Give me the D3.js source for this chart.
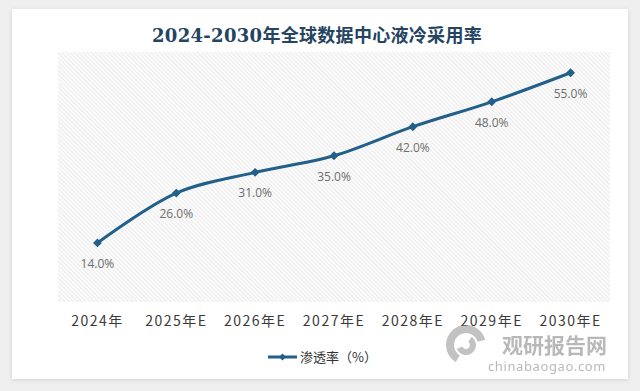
<!DOCTYPE html>
<html lang="zh">
<head>
<meta charset="UTF-8">
<title>全球数据中心液冷采用率</title>
<script src="https://d3js.org/d3.v7.min.js"></script>
<style>
  html, body { margin: 0; padding: 0; background: #efefef; }
  svg { display: block; }
</style>
</head>
<body>
<div id="chart"></div>
<script>
    var width = 640, height = 391;

    // data
    var years = ['2024年', '2025年E', '2026年E', '2027年E', '2028年E', '2029年E', '2030年E'];
    var rates = [14.0, 26.0, 31.0, 35.0, 42.0, 48.0, 55.0];
    var seriesName = '渗透率（%）';
    var title = '2024-2030年全球数据中心液冷采用率';

    var plot = {left: 58, right: 610, top: 52, bottom: 302};
    var lineColor = '#22608a';

    var svg = d3.select('#chart').append('svg')
        .attr('width', width)
        .attr('height', height);

    var defs = svg.append('defs');
    var shadow = defs.append('filter').attr('id', 'shadow')
        .attr('x', '-5%').attr('y', '-5%').attr('width', '110%').attr('height', '110%');
    shadow.append('feDropShadow').attr('dx', 0).attr('dy', 1).attr('stdDeviation', 2)
        .attr('flood-color', '#000').attr('flood-opacity', 0.12);

    // diagonal hatch for the plot area
    var hatch = defs.append('pattern').attr('id', 'hatch')
        .attr('patternUnits', 'userSpaceOnUse')
        .attr('width', 3).attr('height', 3)
        .attr('patternTransform', 'rotate(-45)');
    hatch.append('rect').attr('width', 3).attr('height', 3).attr('fill', '#fbfbfb');
    hatch.append('line').attr('x1', 0).attr('y1', 0).attr('x2', 0).attr('y2', 3)
        .attr('stroke', '#e3e3e3').attr('stroke-width', 1.2);

    // card
    svg.append('rect')
        .attr('x', 12).attr('y', 9).attr('width', 616).attr('height', 370)
        .attr('fill', '#ffffff')
        .attr('filter', 'url(#shadow)');

    svg.append('text')
        .attr('x', 317).attr('y', 42)
        .attr('text-anchor', 'middle')
        .attr('font-family', '"DejaVu Serif", "Noto Sans CJK SC", serif')
        .attr('font-weight', 'bold')
        .attr('font-size', 18)
        .attr('letter-spacing', 0.3)
        .attr('fill', '#244462')
        .text(title);

    svg.append('rect')
        .attr('x', plot.left).attr('y', plot.top)
        .attr('width', plot.right - plot.left).attr('height', plot.bottom - plot.top)
        .attr('fill', 'url(#hatch)');

    var x = d3.scaleBand()
        .domain(years)
        .range([plot.left, plot.right]);

    var y = d3.scaleLinear()
        .domain([0, 60])
        .range([301, plot.top]);

    var xAxis = svg.append('g')
        .attr('transform', 'translate(0,' + plot.bottom + ')')
        .call(d3.axisBottom(x).tickSize(0).tickPadding(14));
    xAxis.select('.domain').remove();
    xAxis.selectAll('text')
        .attr('font-family', '"Noto Sans CJK SC", "Noto Sans", sans-serif')
        .attr('font-size', 14)
        .attr('letter-spacing', 1.5)
        .attr('fill', '#3a3a3a');

    var pts = years.map(function(d, i) { return {cat: d, v: rates[i]}; });

    var line = d3.line()
        .x(function(d) { return x(d.cat) + x.bandwidth() / 2; })
        .y(function(d) { return y(d.v); })
        .curve(d3.curveCatmullRom.alpha(0.5));

    svg.append('path')
        .datum(pts)
        .attr('d', line)
        .attr('fill', 'none')
        .attr('stroke', lineColor)
        .attr('stroke-width', 3)
        .attr('stroke-linejoin', 'round');

    var diamond = d3.symbol().type(d3.symbolDiamond2).size(50);

    svg.selectAll('.marker')
        .data(pts)
        .enter().append('path')
        .attr('class', 'marker')
        .attr('d', diamond)
        .attr('transform', function(d) {
            return 'translate(' + (x(d.cat) + x.bandwidth() / 2) + ',' + y(d.v) + ')';
        })
        .attr('fill', lineColor);

    svg.selectAll('.lbl')
        .data(pts)
        .enter().append('text')
        .attr('class', 'lbl')
        .attr('x', function(d) { return x(d.cat) + x.bandwidth() / 2; })
        .attr('y', function(d) { return y(d.v) + 25; })
        .attr('text-anchor', 'middle')
        .attr('font-family', '"Open Sans", "Noto Sans", sans-serif')
        .attr('font-size', 12)
        .attr('fill', '#6e6e6e')
        .text(function(d) { return d.v.toFixed(1) + '%'; });

    // legend
    var lg = svg.append('g').attr('transform', 'translate(268,357)');
    lg.append('line').attr('x1', 0).attr('x2', 29).attr('y1', 0).attr('y2', 0)
        .attr('stroke', lineColor).attr('stroke-width', 3);
    lg.append('path').attr('d', d3.symbol().type(d3.symbolDiamond2).size(30))
        .attr('transform', 'translate(14.5,0)').attr('fill', lineColor);
    lg.append('text').attr('x', 32).attr('y', 5)
        .attr('font-family', '"Noto Sans CJK SC", sans-serif')
        .attr('font-size', 13)
        .attr('fill', '#333333')
        .text(seriesName);

    // watermark
    var wm = svg.append('g').attr('opacity', 0.6);
    wm.append('path')
        .attr('transform', 'translate(466,345)')
        .attr('d', d3.arc().innerRadius(12).outerRadius(20).startAngle(-2.6).endAngle(1.3)())
        .attr('fill', '#9a9a9a');
    wm.append('path')
        .attr('transform', 'translate(466,345)')
        .attr('d', d3.arc().innerRadius(4).outerRadius(10).startAngle(0.6).endAngle(4.3)())
        .attr('fill', '#9a9a9a');
    wm.append('text').attr('x', 607).attr('y', 353)
        .attr('text-anchor', 'end')
        .attr('font-family', '"Noto Sans CJK SC", sans-serif')
        .attr('font-weight', 'bold')
        .attr('font-size', 21)
        .attr('fill', '#8a8a8a')
        .text('观研报告网');
    wm.append('text').attr('x', 606).attr('y', 371)
        .attr('text-anchor', 'end')
        .attr('font-family', '"Noto Sans", sans-serif')
        .attr('font-size', 13)
        .attr('letter-spacing', 0.6)
        .attr('fill', '#8a8a8a')
        .text('chinabaogao.com');
</script>
</body>
</html>
